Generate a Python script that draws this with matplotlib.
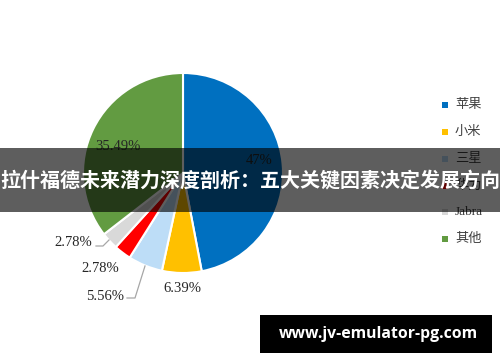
import matplotlib.pyplot as plt
from matplotlib.patches import Rectangle

# Data for the pie
brands = ['苹果', '小米', '三星', '华为', 'Jabra', '其他']
shares = [47, 6.39, 5.56, 2.78, 2.78, 35.49]
share_labels = ['47%', '6.39%', '5.56%', '2.78%', '2.78%', '35.49%']
colors = ['#0070C0', '#FFC000', '#BDDDF7', '#FF0000', '#D9D9D9', '#629B41']

title = '拉什福德未来潜力深度剖析：五大关键因素决定发展方向'
watermark = 'www.jv-emulator-pg.com'

W, H = 500, 362
fig = plt.figure(figsize=(5, 3.62), dpi=100)
ax = fig.add_axes([0, 0, 1, 1])

cx, cy, r = 183, H - 173, 100
wedges, _ = ax.pie(shares, colors=colors, startangle=90, counterclock=False,
                   center=(cx, cy), radius=r, frame=True,
                   wedgeprops=dict(edgecolor='white', linewidth=1.5))
ax.set_xlim(0, W)
ax.set_ylim(0, H)
ax.set_aspect('equal')
ax.axis('off')

# label positions (pixels from top-left)
label_pos = [(259, 161), (182, 289), (105, 297), (100, 268), (73, 243), (118, 146)]
serif = 'Liberation Serif'
for lab, (x, y) in zip(share_labels, label_pos):
    ax.text(x, H - y, lab, ha='center', va='center', fontsize=10.5,
            family=serif, color='#262626')

# leader lines
ax.plot([127, 135, 145], [H - 298, H - 298, H - 266], color='#A6A6A6', lw=0.9)
ax.plot([96, 103, 109], [H - 246, H - 246, H - 240], color='#A6A6A6', lw=0.9)

# legend
leg_y = [105, 132, 159, 186, 212, 239]
for name, col, y in zip(brands, colors, leg_y):
    ax.add_patch(Rectangle((442, H - y - 3), 6, 6, color=col, lw=0))
    ax.text(455, H - y, name, ha='left', va='center', fontsize=9.5,
            family=[serif, 'Noto Sans CJK SC'], color='#404040')

# banner overlay
fig.patches.append(Rectangle((0, 1 - 212 / H), 1, 64 / H, transform=fig.transFigure,
                             color='black', alpha=0.63, lw=0, zorder=5))
fig.text(0.5, 1 - 181 / H, title, ha='center', va='center', color='white',
         fontsize=14.4, fontweight='bold', family=['Noto Sans CJK SC', 'DejaVu Sans'],
         zorder=6)

# watermark
fig.patches.append(Rectangle((260 / W, 1 - 353 / H), 232 / W, 38 / H,
                             transform=fig.transFigure, color='black', lw=0, zorder=5))
fig.text(378 / W, 1 - 334 / H, watermark, ha='center', va='center', color='white',
         fontsize=11.3, fontweight='bold', family='Open Sans', zorder=6)

fig.savefig('out.png', dpi=100)
